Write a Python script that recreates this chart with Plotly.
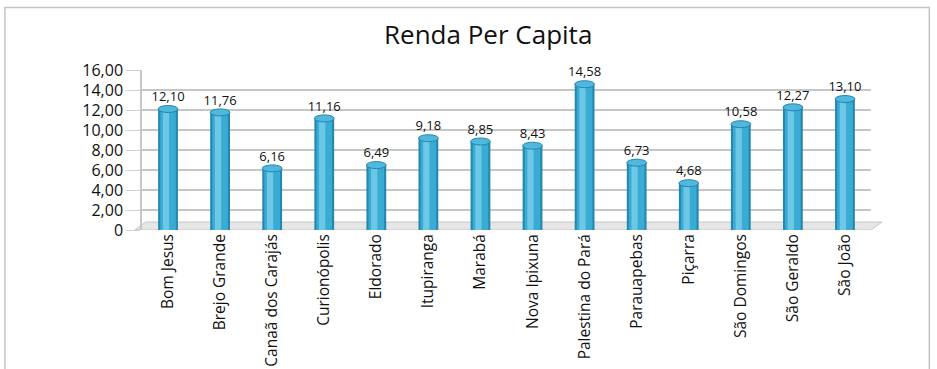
import plotly.graph_objects as go

municipios = ["Bom Jesus", "Brejo Grande", "Canaã dos Carajás", "Curionópolis",
              "Eldorado", "Itupiranga", "Marabá", "Nova Ipixuna",
              "Palestina do Pará", "Parauapebas", "Piçarra", "São Domingos",
              "São Geraldo", "São João"]
renda = [12.10, 11.76, 6.16, 11.16, 6.49, 9.18, 8.85, 8.43,
         14.58, 6.73, 4.68, 10.58, 12.27, 13.10]
tick_vals = [0, 2, 4, 6, 8, 10, 12, 14, 16]
tick_text = ["0", "2,00", "4,00", "6,00", "8,00", "10,00", "12,00", "14,00", "16,00"]

labels = [f"{v:.2f}".replace(".", ",") for v in renda]

FONT = "Open Sans"
BAR_W = 0.38
fig = go.Figure()

# cylinder shading: dark outer body, mid tone, light highlight
for width, offset, color in [(BAR_W, None, "#2387b0"),
                             (0.30, None, "#3aabd2"),
                             (0.12, -0.10, "#6cc8e6")]:
    kw = dict(offset=offset) if offset is not None else {}
    fig.add_trace(go.Bar(
        x=municipios, y=renda, width=width,
        marker=dict(color=color, line=dict(width=0)),
        hoverinfo="skip", **kw,
    ))

# value labels above each cylinder
fig.add_trace(go.Scatter(
    x=municipios, y=[v + 0.45 for v in renda], mode="text", text=labels,
    textposition="top center",
    textfont=dict(family=FONT, size=13, color="#111"),
    cliponaxis=False, hoverinfo="skip",
))

# elliptical caps on top of each cylinder
caps = [dict(type="circle", xref="x", yref="y",
             x0=i - BAR_W / 2, x1=i + BAR_W / 2, y0=v - 0.35, y1=v + 0.35,
             fillcolor="#4fb8dc", line=dict(color="#2387b0", width=1))
        for i, v in enumerate(renda)]

fig.update_layout(
    width=937, height=369,
    margin=dict(l=142, r=66, t=70, b=139, autoexpand=False),
    paper_bgcolor="white", plot_bgcolor="white",
    barmode="overlay", showlegend=False,
    title=dict(text="Renda Per Capita", x=0.521, xanchor="center", y=0.905, yanchor="middle",
               font=dict(family=FONT, size=26, color="#111")),
    font=dict(family=FONT, color="#111"),
    xaxis=dict(tickangle=-90, tickfont=dict(size=15.5), showgrid=False, automargin=False,
               showline=False, ticks="", range=[-0.5, 13.5]),
    yaxis=dict(range=[0, 16], tickvals=tick_vals, ticktext=tick_text, automargin=False,
               tickfont=dict(size=16), showgrid=True, gridcolor="#c6c6c6",
               gridwidth=2, zeroline=False, showline=True, linecolor="#c6c6c6",
               linewidth=1.5, ticks="outside", ticklen=14, tickcolor="#d0d0d0"),
    shapes=[
        # floor of the chart
        dict(type="path", xref="paper", yref="y", layer="below",
             path="M -0.01 0 L 1.0 0 L 1.015 0.8 L 0.005 0.8 Z",
             fillcolor="#e6e6e6", line=dict(color="#c6c6c6", width=1)),
        # outer frame
        dict(type="rect", xref="paper", yref="paper",
             x0=-0.188, x1=1.08, y0=-1.0, y1=1.39,
             line=dict(color="#c4c4c4", width=1.5)),
    ] + caps,
)

fig.write_html("out.html")
